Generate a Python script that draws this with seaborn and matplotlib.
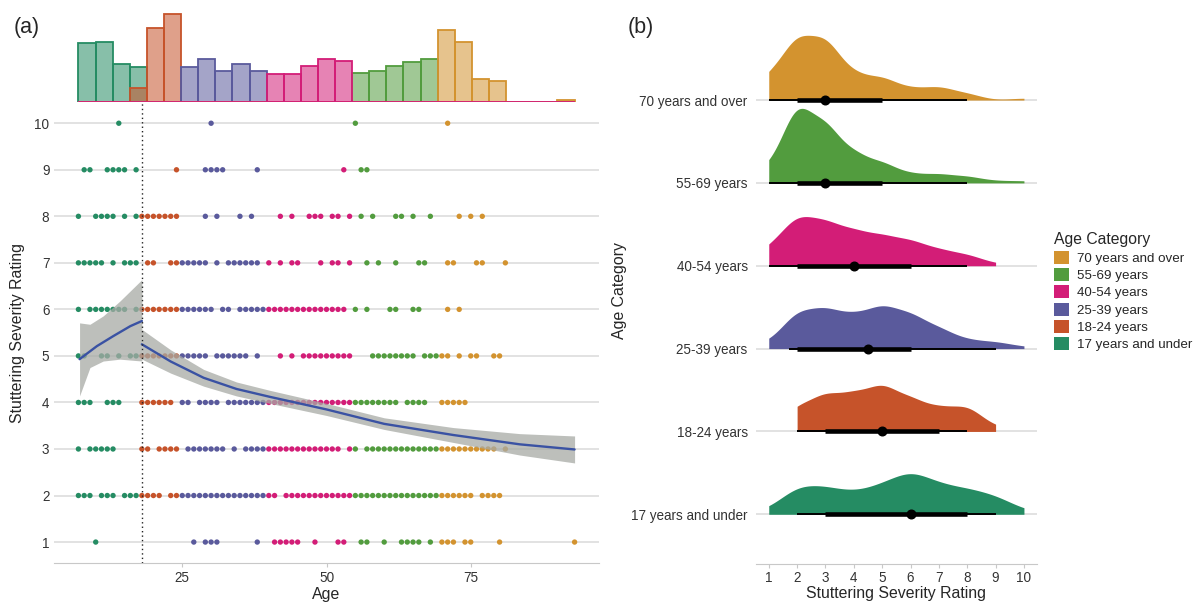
import numpy as np
import pandas as pd
import matplotlib
matplotlib.use("Agg")
import matplotlib.pyplot as plt
from matplotlib.patches import Patch
import seaborn as sns

# ---- categories and colours
groups = ["17 years and under", "18-24 years", "25-39 years",
          "40-54 years", "55-69 years", "70 years and over"]
colors = ["#258C63", "#C6532A", "#5A5A9C", "#D31D77", "#529C3E", "#D3932F"]
age_cuts = [0, 17.5, 24.5, 39.5, 54.5, 69.5, 120]
ratings = [1, 2, 3, 4, 5, 6, 7, 8, 9, 10]

# ---- panel (a): ages shown at each severity rating
ages_r10 = [14, 30, 55, 71]
ages_r9 = [8, 9, 12, 13, 14, 15, 17, 24, 29, 30, 31, 32, 38, 53, 56, 57]
ages_r8 = [7, 10, 11, 12, 13, 15, 17, 18, 19, 20, 21, 22, 23, 24, 29, 31, 35,
           37, 42, 44, 47, 48, 49, 51, 52, 54, 56, 58, 62, 63, 65, 68, 73, 75,
           77]
ages_r7 = [7, 8, 9, 10, 11, 13, 15, 16, 17, 19, 20, 23, 24, 25, 26, 27, 28,
           29, 31, 33, 34, 35, 36, 37, 38, 40, 42, 44, 45, 49, 51, 52, 54, 57,
           59, 62, 66, 67, 71, 72, 76, 77, 81]
ages_r6 = [7, 9, 10, 11, 12, 13, 14, 15, 17, 18, 19, 20, 21, 22, 23, 24, 25,
           26, 27, 28, 29, 30, 32, 33, 35, 36, 37, 38, 39, 40, 41, 42, 43, 44,
           45, 46, 47, 48, 49, 50, 51, 52, 53, 55, 57, 61, 62, 65, 66, 71, 73]
ages_r5 = [7, 8, 11, 12, 14, 16, 17, 18, 19, 20, 21, 22, 23, 24, 25, 26, 27,
           28, 29, 31, 32, 33, 34, 35, 36, 38, 42, 44, 46, 47, 48, 49, 50, 51,
           52, 53, 54, 58, 59, 60, 61, 62, 63, 64, 65, 67, 68, 69, 70, 71, 73,
           75, 76, 79, 80]
ages_r4 = [7, 8, 9, 12, 13, 14, 18, 19, 20, 21, 22, 23, 25, 26, 28, 29, 30,
           31, 33, 34, 35, 36, 37, 38, 39, 40, 41, 42, 43, 44, 45, 46, 47, 48,
           49, 50, 51, 52, 53, 54, 55, 56, 57, 58, 59, 60, 61, 62, 64, 65, 66,
           67, 70, 71, 72, 73, 74]
ages_r3 = [7, 9, 10, 11, 12, 13, 18, 19, 21, 22, 23, 24, 26, 27, 28, 29, 30,
           31, 32, 34, 36, 37, 38, 39, 40, 41, 42, 43, 44, 45, 46, 47, 48, 49,
           50, 51, 52, 54, 55, 57, 58, 59, 60, 61, 62, 63, 64, 65, 66, 67, 68,
           69, 70, 71, 72, 73, 74, 75, 76, 77, 78, 79, 81]
ages_r2 = [7, 8, 9, 11, 12, 13, 15, 16, 17, 18, 19, 20, 21, 23, 24, 25, 26,
           27, 28, 29, 30, 31, 32, 33, 34, 35, 36, 37, 38, 39, 40, 41, 43, 44,
           45, 46, 47, 48, 49, 50, 51, 52, 53, 54, 55, 56, 57, 58, 59, 60, 61,
           62, 63, 64, 65, 66, 67, 68, 69, 70, 71, 72, 73, 74, 75, 77, 78, 79,
           80]
ages_r1 = [10, 27, 29, 30, 31, 38, 41, 42, 43, 44, 45, 48, 52, 53, 56, 57, 60,
           63, 64, 65, 66, 68, 70, 71, 72, 74, 75, 80, 93]

# smooth fits (split at age 18) with confidence band
cutoff_age = 18
fit_left_age = [7.2, 10.2, 13.1, 16, 18]
fit_left = [4.93, 5.21, 5.43, 5.64, 5.75]
band_left_age = [7.2, 9, 11.3, 14.2, 18]
band_left_lo = [4.14, 4.75, 4.89, 4.93, 4.89]
band_left_hi = [5.71, 5.68, 5.86, 6.18, 6.64]
fit_right_age = [18, 23, 28.7, 34.4, 40.2, 50, 60, 72, 83.5, 93]
fit_right = [5.25, 4.88, 4.53, 4.29, 4.12, 3.85, 3.54, 3.30, 3.10, 2.99]
fit_right_lo = [4.93, 4.63, 4.35, 4.14, 3.98, 3.72, 3.42, 3.14, 2.87, 2.70]
fit_right_hi = [5.57, 5.13, 4.71, 4.44, 4.26, 3.98, 3.67, 3.46, 3.33, 3.28]

# marginal age histogram (ages inside each bin, count per bin)
hist_age_17 = [8, 11, 14, 17]
hist_n_17 = [136, 140, 88, 80]
hist_age_18 = [18, 20, 23]
hist_n_18 = [32, 172, 204]
hist_age_25 = [26, 29, 32, 35, 38]
hist_n_25 = [80, 100, 72, 88, 72]
hist_age_40 = [41, 44, 47, 50, 53]
hist_n_40 = [64, 64, 84, 100, 96]
hist_age_55 = [56, 59, 62, 65, 68]
hist_n_55 = [68, 72, 84, 92, 100]
hist_age_70 = [71, 74, 77, 80, 93]
hist_n_70 = [168, 140, 52, 48, 4]

# ---- panel (b): number of people at each rating (1..10) per age category
counts_17 = [8, 56, 52, 40, 56, 84, 56, 48, 36, 8]
counts_18 = [0, 44, 64, 64, 80, 56, 40, 44, 8, 0]
counts_25 = [11, 70, 74, 60, 80, 64, 38, 16, 13, 4]
counts_40 = [32, 88, 76, 60, 52, 44, 28, 20, 4, 0]
counts_55 = [28, 140, 104, 52, 36, 16, 16, 12, 4, 4]
counts_70 = [44, 112, 108, 44, 40, 20, 24, 12, 0, 4]


def clear_axes(ax):
    ax.set_xticks([])
    ax.set_yticks([])
    ax.set_xlabel("")
    ax.set_ylabel("")
    ax.set_axis_off()


def main():
    sns.set_style("white")
    plt.rcParams["font.family"] = ["Liberation Sans", "DejaVu Sans"]
    tick_col = "#333333"
    grid_col = "#DADADA"

    dot_rows = [(1, ages_r1), (2, ages_r2), (3, ages_r3), (4, ages_r4),
                (5, ages_r5), (6, ages_r6), (7, ages_r7), (8, ages_r8),
                (9, ages_r9), (10, ages_r10)]
    dots = pd.concat([pd.DataFrame({"age": a, "rating": r})
                      for r, a in dot_rows], ignore_index=True)
    dots["group"] = pd.cut(dots["age"], age_cuts, labels=groups)

    fig = plt.figure(figsize=(11.97, 6.04), dpi=100)
    W, H = 1197.0, 604.0

    def box(x0, y0, x1, y1):
        return [x0 / W, 1 - y1 / H, (x1 - x0) / W, (y1 - y0) / H]

    # ---------------- panel (a)
    ax_a = fig.add_axes(box(53.6, 102.3, 599.4, 563))
    sns.scatterplot(data=dots, x="age", y="rating", hue="group",
                    hue_order=groups, palette=colors, s=15, linewidth=0,
                    legend=False, ax=ax_a, zorder=2)
    band = "#A7AAA5"
    ax_a.fill_between(band_left_age, band_left_lo, band_left_hi, color=band,
                      alpha=0.75, lw=0, zorder=3)
    ax_a.fill_between(fit_right_age, fit_right_lo, fit_right_hi, color=band,
                      alpha=0.75, lw=0, zorder=3)
    ax_a.plot(fit_left_age, fit_left, color="#3A52A3", lw=1.7, zorder=4)
    ax_a.plot(fit_right_age, fit_right, color="#3A52A3", lw=1.7, zorder=4)
    ax_a.axvline(cutoff_age, color="#222222", ls=(0, (1, 2.2)), lw=1,
                 zorder=5)
    ax_a.set_xlim(2.7, 97.3)
    ax_a.set_ylim(0.55, 10.45)
    ax_a.set_yticks(ratings)
    ax_a.set_xticks([25, 50, 75])
    ax_a.yaxis.grid(True, color=grid_col, lw=1.1, zorder=0)
    ax_a.set_axisbelow(True)
    for s in ["top", "right", "left"]:
        ax_a.spines[s].set_visible(False)
    ax_a.spines["bottom"].set_color("#C8C8C8")
    ax_a.tick_params(axis="y", length=0, pad=3, labelsize=9.75,
                     labelcolor=tick_col)
    ax_a.tick_params(axis="x", length=3, color="#C8C8C8", pad=3,
                     labelsize=9.75, labelcolor=tick_col, bottom=True)
    ax_a.set_xlabel("Age", fontsize=11.4)
    ax_a.set_ylabel("Stuttering Severity Rating", fontsize=11.4)
    ax_a.xaxis.set_label_coords(0.5, -0.052)
    ax_a.yaxis.set_label_coords(-0.052, 0.5)

    # marginal histogram
    ax_h = fig.add_axes(box(53.6, 10, 599.4, 101.7))
    edges = np.linspace(7, 93, 30).tolist()
    hist_sets = [(hist_age_17, hist_n_17, 0), (hist_age_18, hist_n_18, 1),
                 (hist_age_25, hist_n_25, 2), (hist_age_55, hist_n_55, 4),
                 (hist_age_70, hist_n_70, 5), (hist_age_40, hist_n_40, 3)]
    for a, n, gi in hist_sets:
        hdf = pd.DataFrame({"age": a, "n": n})
        sns.histplot(data=hdf, x="age", weights="n", bins=edges,
                     color=colors[gi], alpha=0.55, linewidth=0, ax=ax_h)
        sns.histplot(data=hdf, x="age", weights="n", bins=edges,
                     color=colors[gi], fill=False, linewidth=1.3, ax=ax_h)
    ax_h.set_xlim(2.7, 97.3)
    ax_h.set_ylim(0, 214)
    clear_axes(ax_h)

    # ---------------- panel (b)
    ax_b = fig.add_axes(box(756, 17.2, 1036.7, 564))
    ax_b.set_xlim(0.55, 10.45)
    ax_b.set_ylim(0.4, 7.0)
    ax_b.set_yticks(range(1, 7))
    ax_b.set_yticklabels(groups)
    ax_b.set_xticks(ratings)
    ax_b.yaxis.grid(True, color=grid_col, lw=1.1)
    for s in ["top", "right", "left"]:
        ax_b.spines[s].set_visible(False)
    ax_b.spines["bottom"].set_color("#C8C8C8")
    ax_b.tick_params(axis="y", length=0, pad=6, labelsize=9.75,
                     labelcolor=tick_col)
    ax_b.tick_params(axis="x", length=3, color="#C8C8C8", pad=2,
                     labelsize=9.75, labelcolor=tick_col, bottom=True)
    ax_b.set_xlabel("Stuttering Severity Rating", fontsize=11.4)
    ax_b.set_ylabel("Age Category", fontsize=11.4)
    ax_b.xaxis.set_label_coords(0.5, -0.04)
    ax_b.yaxis.set_label_coords(-0.46, 0.5)

    all_counts = [counts_17, counts_18, counts_25, counts_40, counts_55,
                  counts_70]
    slabs = []
    for k, (cnt, col) in enumerate(zip(all_counts, colors)):
        vals = np.repeat(ratings, cnt)
        ins = ax_b.inset_axes([0.55, k + 1, 9.9, 1.0],
                              transform=ax_b.transData)
        sns.kdeplot(x=vals, ax=ins, fill=True, color=col, alpha=1,
                    linewidth=0, cut=0, bw_adjust=0.95)
        slabs.append((ins, vals))
    top = max(ins.dataLim.y1 for ins, _ in slabs) / 0.9
    for ins, vals in slabs:
        q = np.quantile(vals, [0.025, 0.17, 0.5, 0.83, 0.975])
        ins.plot([q[0], q[4]], [0, 0], color="black", lw=1.4,
                 solid_capstyle="butt", clip_on=False)
        ins.plot([q[1], q[3]], [0, 0], color="black", lw=3.3,
                 solid_capstyle="butt", clip_on=False)
        ins.plot([q[2]], [0], "o", color="black", ms=6.2, clip_on=False)
        ins.set_xlim(0.55, 10.45)
        ins.set_ylim(0, top)
        clear_axes(ins)

    handles = [Patch(facecolor=c, edgecolor="none") for c in colors[::-1]]
    leg = fig.legend(handles, groups[::-1], title="Age Category",
                     loc="upper left", bbox_to_anchor=(1049 / W, 1 - 227 / H),
                     frameon=False, fontsize=9.6, title_fontsize=11.3,
                     handlelength=1.1, handleheight=1.15, handletextpad=0.6,
                     labelspacing=0.24, borderaxespad=0)
    leg._legend_box.align = "left"

    fig.text(14 / W, 1 - 17 / H, "(a)", fontsize=15.5, va="top")
    fig.text(628 / W, 1 - 17 / H, "(b)", fontsize=15.5, va="top")

    fig.savefig("out.png", dpi=100)
    plt.close(fig)


if __name__ == "__main__":
    main()
